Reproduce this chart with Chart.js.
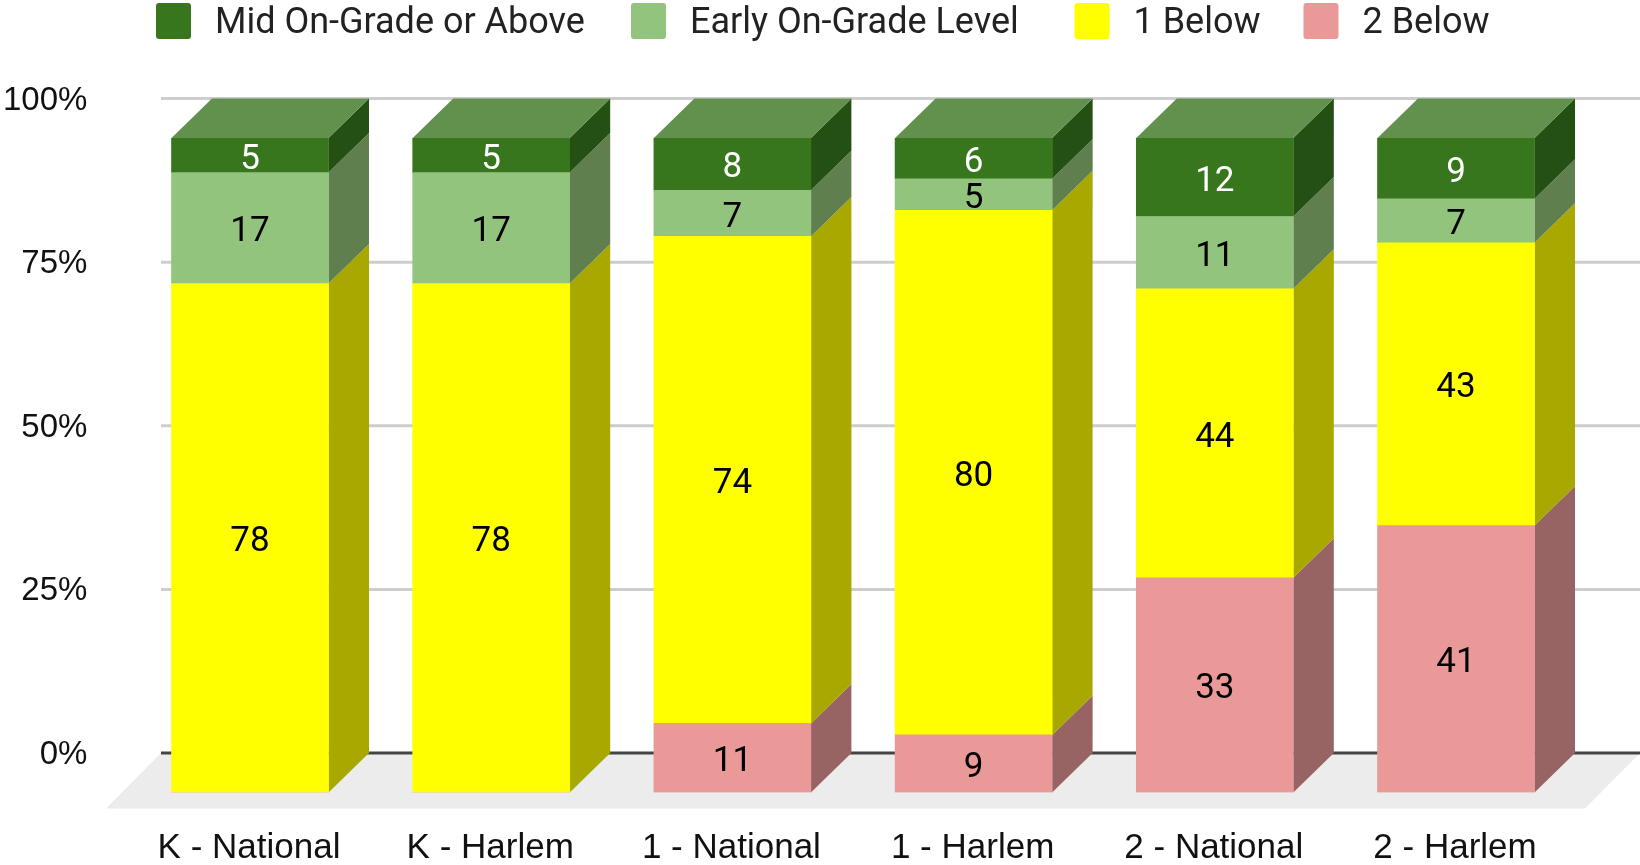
<!DOCTYPE html>
<html>
<head>
<meta charset="utf-8">
<title>Reading levels</title>
<script src="https://cdn.jsdelivr.net/npm/chart.js@4"></script>
<style>
  body { margin: 0; background: #fff; }
  canvas { display: block; }
</style>
</head>
<body>
<canvas id="levels-chart" width="1640" height="865"></canvas>
<script>
'use strict';

/*=====Data (the labels are these values rounded)===========================================*/
const categories = ['K - National', 'K - Harlem', '1 - National', '1 - Harlem', '2 - National', '2 - Harlem'];
const twoBelow = [0, 0, 10.56, 8.8, 32.8, 40.8];
const oneBelow = [77.76, 77.76, 74.4, 80.16, 44.16, 43.2];
const earlyOnGrade = [16.96, 16.96, 7.04, 4.8, 11.04, 6.72];
const midOnGrade = [5.28, 5.28, 8, 6.24, 12, 9.28];
const yTicks = [0, 25, 50, 75, 100];

/*=====Colors=================*/
const frontColors = ['#EA9999', '#FFFF00', '#93C47D', '#38761D'];
const sideColors = ['#986363', '#A8A800', '#5F7F4F', '#245013'];
const topColor = '#61914C';
const labelColors = ['#000', '#000', '#000', '#fff'];

// 3D depth of the bars: the y scale is the back wall, the bars stand in front of it
const depthX = 40.5;
const depthY = 39.5;

/*=====Floor and grid, behind the bars==========*/
const wallPlugin = {
  id: 'wall',
  beforeDatasetsDraw(chart) {
    const c = chart.ctx;
    const y = chart.scales.y;
    const left = 161;
    const right = 1640;
    const y0 = y.getPixelForValue(0);

    c.save();
    c.fillStyle = '#ECECEC';
    c.beginPath();
    c.moveTo(left, y0);
    c.lineTo(right, y0);
    c.lineTo(1585, y0 + depthY + 16);
    c.lineTo(106, y0 + depthY + 16);
    c.closePath();
    c.fill();

    yTicks.forEach(tick => {
      c.strokeStyle = tick === 0 ? '#444444' : '#CDCDCD';
      c.lineWidth = 3;
      c.beginPath();
      c.moveTo(left, y.getPixelForValue(tick));
      c.lineTo(right, y.getPixelForValue(tick));
      c.stroke();
    });
    c.restore();

    // native bars get drawn shifted down to the front of the floor
    c.save();
    c.translate(0, depthY);
    chart.data.datasets.forEach((ds, i) => {
      chart.getDatasetMeta(i).data.forEach((bar, j) => {
        if (ds.data[j] === 0) return;
        const barRight = bar.x + bar.width / 2;
        c.fillStyle = sideColors[i];
        c.beginPath();
        c.moveTo(barRight, bar.y);
        c.lineTo(barRight + depthX, bar.y - depthY);
        c.lineTo(barRight + depthX, bar.base - depthY);
        c.lineTo(barRight, bar.base);
        c.closePath();
        c.fill();
      });
    });
    const topBars = chart.getDatasetMeta(chart.data.datasets.length - 1).data;
    topBars.forEach(bar => {
      const l = bar.x - bar.width / 2;
      const r = bar.x + bar.width / 2;
      c.fillStyle = topColor;
      c.beginPath();
      c.moveTo(l, bar.y);
      c.lineTo(r, bar.y);
      c.lineTo(r + depthX, bar.y - depthY);
      c.lineTo(l + depthX, bar.y - depthY);
      c.closePath();
      c.fill();
    });
  },
  afterDatasetsDraw(chart) {
    const c = chart.ctx;
    // value labels, still in the shifted space
    c.font = '35px Roboto';
    c.textAlign = 'center';
    c.textBaseline = 'middle';
    chart.data.datasets.forEach((ds, i) => {
      c.fillStyle = labelColors[i];
      chart.getDatasetMeta(i).data.forEach((bar, j) => {
        if (ds.data[j] === 0) return;
        c.fillText(Math.round(ds.data[j]), bar.x, (bar.y + bar.base) / 2 + 4.5);
      });
    });
    c.restore();
    drawLegend(c);
  }
};

/*=====Legend, the gap box/text is wider than the native one==========*/
function drawLegend(c) {
  const entries = [
    { text: 'Mid On-Grade or Above', color: frontColors[3], x: 156 },
    { text: 'Early On-Grade Level', color: frontColors[2], x: 631 },
    { text: '1 Below', color: frontColors[1], x: 1074.5 },
    { text: '2 Below', color: frontColors[0], x: 1303.5 }
  ];
  c.save();
  c.font = '36px Roboto';
  c.textAlign = 'left';
  c.textBaseline = 'middle';
  entries.forEach(entry => {
    c.fillStyle = entry.color;
    c.beginPath();
    c.roundRect(entry.x, 3, 35, 36, 3);
    c.fill();
    c.fillStyle = '#222222';
    c.fillText(entry.text, entry.x + 59, 24);
  });
  c.restore();
}

/*=====Chart==========*/
const ctx = document.getElementById('levels-chart').getContext('2d');

new Chart(ctx, {
  type: 'bar',
  data: {
    labels: categories,
    datasets: [
      { label: '2 Below', data: twoBelow, backgroundColor: frontColors[0] },
      { label: '1 Below', data: oneBelow, backgroundColor: frontColors[1] },
      { label: 'Early On-Grade Level', data: earlyOnGrade, backgroundColor: frontColors[2] },
      { label: 'Mid On-Grade or Above', data: midOnGrade, backgroundColor: frontColors[3] }
    ]
  },
  options: {
    responsive: false,
    animation: false,
    datasets: { bar: { barThickness: 157 } },
    layout: { padding: { top: 98.5, right: 63.4, left: 0, bottom: 0 } },
    plugins: {
      legend: { display: false },
      tooltip: { enabled: false }
    },
    scales: {
      x: {
        stacked: true,
        grid: { display: false, drawTicks: false },
        border: { display: false },
        afterFit(scale) { scale.height = 112; },
        ticks: {
          padding: 74,
          labelOffset: -1,
          maxRotation: 0,
          autoSkip: false,
          color: '#111111',
          font: { family: 'Liberation Sans', size: 35 }
        }
      },
      y: {
        stacked: true,
        min: 0,
        max: 100,
        grid: { display: false, drawTicks: false },
        border: { display: false },
        afterFit(scale) { scale.width = 129.4; },
        afterBuildTicks(scale) { scale.ticks = yTicks.map(v => ({ value: v })); },
        ticks: {
          padding: 42,
          labelOffset: 2,
          color: '#111111',
          font: { family: 'Liberation Sans', size: 33 },
          callback: value => value + '%'
        }
      }
    }
  },
  plugins: [wallPlugin]
});
</script>
</body>
</html>
